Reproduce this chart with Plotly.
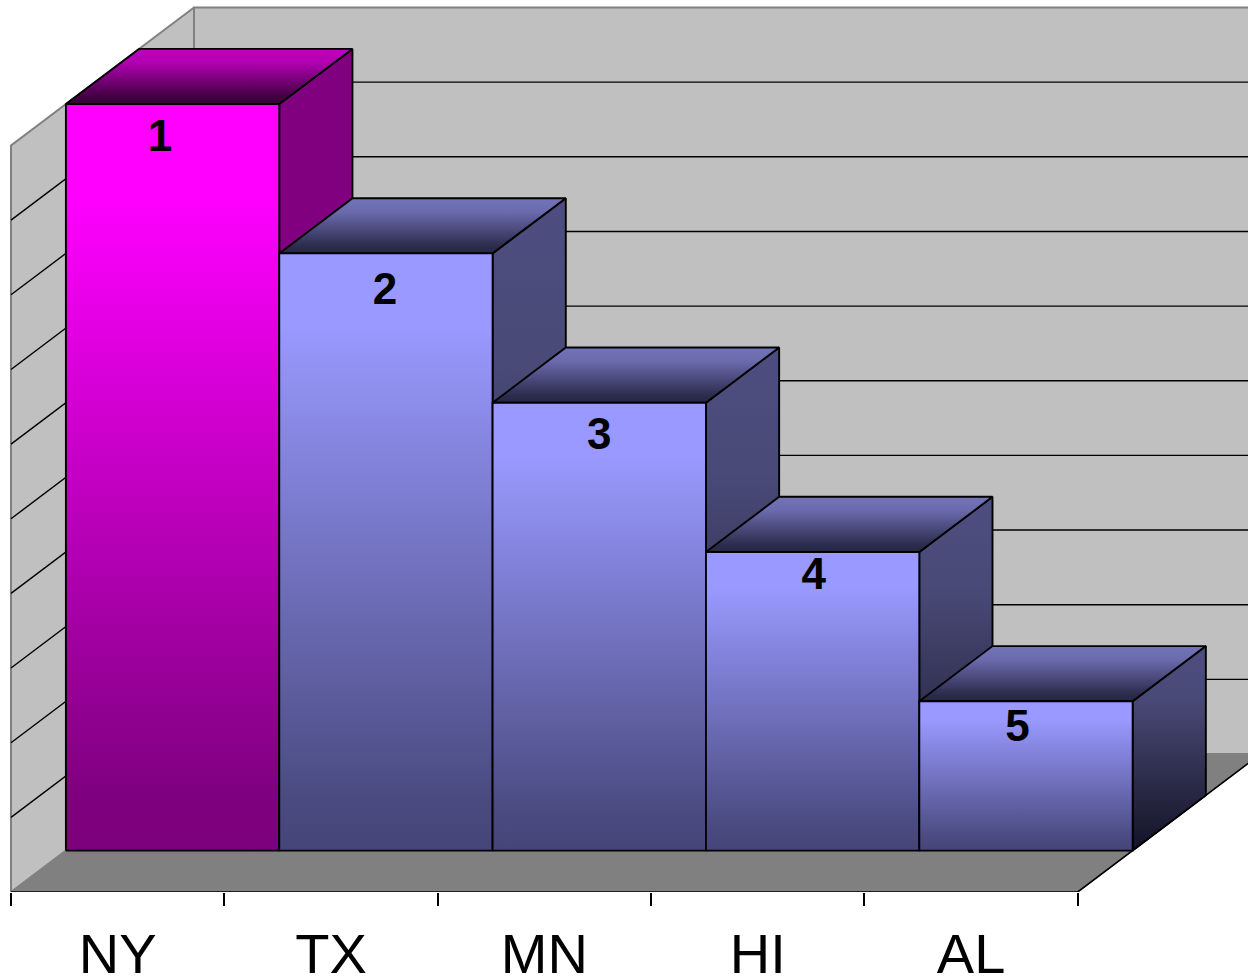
import plotly.graph_objects as go

# Chart data
states = ["NY", "TX", "MN", "HI", "AL"]
heights = [10, 8, 6, 4, 2]
ranks = [1, 2, 3, 4, 5]
grid_values = [1, 2, 3, 4, 5, 6, 7, 8, 9]

# Scale of the plot: pixels per category, pixels per value unit
PX_X = 213.35
PX_Y = 74.65
# Oblique depth vector of the whole floor, in pixels
DEPTH_DX = 183
DEPTH_DY = 138
BAR_NEAR = 0.3
BAR_FAR = 0.7
WALL_TOP = 10
PLOT_LEFT = 11
PLOT_BOTTOM = 892


def project(cat, val, depth):
    return cat + depth * DEPTH_DX / PX_X, val + depth * DEPTH_DY / PX_Y


def face(corners):
    xs, ys = zip(*[project(*c) for c in corners])
    return list(xs) + [xs[0]], list(ys) + [ys[0]]


def grad(stops):
    return dict(type="vertical", colorscale=stops)


fig = go.Figure()


def add_face(corners, line_color="#000000", line_width=1.9, fillcolor=None, gradient=None):
    x, y = face(corners)
    tr = dict(x=x, y=y, mode="lines", fill="toself", hoverinfo="skip",
              showlegend=False, line=dict(color=line_color, width=line_width))
    if gradient:
        tr["fillgradient"] = grad(gradient)
    else:
        tr["fillcolor"] = fillcolor
    fig.add_trace(go.Scatter(**tr))


# Walls and floor
n = len(states)
add_face([(0, 0, 1), (n + 1, 0, 1), (n + 1, WALL_TOP, 1), (0, WALL_TOP, 1)],
         line_color="#808080", line_width=2, fillcolor="#c0c0c0")
add_face([(0, 0, 0), (0, 0, 1), (0, WALL_TOP, 1), (0, WALL_TOP, 0)],
         line_color="#808080", line_width=2, fillcolor="#c0c0c0")
add_face([(0, 0, 0), (n, 0, 0), (n, 0, 1), (0, 0, 1)],
         line_color="#808080", line_width=1, fillcolor="#808080")

# Floor edges along the front and the right-hand side
ex, ey = zip(*[project(*c) for c in [(0, 0, 0), (n, 0, 0), (n, 0, 1)]])
fig.add_trace(go.Scatter(x=ex, y=ey, mode="lines", hoverinfo="skip", showlegend=False,
                         cliponaxis=False, line=dict(color="#000000", width=1.6)))

# Gridlines across the left wall and the back wall
gx, gy = [], []
for v in grid_values:
    for c in [(0, v, 0), (0, v, 1), (n + 1, v, 1)]:
        px, py = project(*c)
        gx.append(px)
        gy.append(py)
    gx.append(None)
    gy.append(None)
fig.add_trace(go.Scatter(x=gx, y=gy, mode="lines", hoverinfo="skip", showlegend=False,
                         line=dict(color="#000000", width=1.4)))

# Colour ramps per face; position 0 is the bottom of the face
front_pink = [[0, "#7c007c"], [0.08, "#800080"], [0.88, "#ff00ff"], [1, "#ff00ff"]]
side_pink = [[0, "#400040"], [0.6, "#800080"], [1, "#800080"]]
top_pink = [[0, "#380038"], [0.12, "#400040"], [0.75, "#b000b0"], [1, "#c000c0"]]
front_blue = [[0, "#45457a"], [0.08, "#4a4a80"], [0.88, "#9999ff"], [1, "#9999ff"]]
side_blue = [[0, "#12122a"], [0.1, "#1a1a30"], [0.75, "#4a4a78"], [1, "#4d4d80"]]
top_blue = [[0, "#262645"], [0.12, "#2b2b4c"], [0.75, "#6a6aad"], [1, "#7373b8"]]

# Bars, left to right so each one overlaps its neighbour's side
for i, h in enumerate(heights):
    pink = i == 0
    l, r = i, i + 1
    add_face([(r, 0, BAR_NEAR), (r, 0, BAR_FAR), (r, h, BAR_FAR), (r, h, BAR_NEAR)],
             gradient=side_pink if pink else side_blue)
    add_face([(l, h, BAR_NEAR), (r, h, BAR_NEAR), (r, h, BAR_FAR), (l, h, BAR_FAR)],
             gradient=top_pink if pink else top_blue)
    add_face([(l, 0, BAR_NEAR), (r, 0, BAR_NEAR), (r, h, BAR_NEAR), (l, h, BAR_NEAR)],
             gradient=front_pink if pink else front_blue)

# Rank labels just under each bar's top edge, nudged in pixels
label_nudge_x = [-12.5, -1, 0, 1, -8.5]
label_drop = [36, 40, 35, 26, 29]
lx, ly = [], []
for i, h in enumerate(heights):
    px, py = project(i + 0.5, h, BAR_NEAR)
    lx.append(px + label_nudge_x[i] / PX_X)
    ly.append(py - label_drop[i] / PX_Y)
fig.add_trace(go.Scatter(x=lx, y=ly, mode="text", text=[str(r) for r in ranks],
                         textposition="middle center", hoverinfo="skip", showlegend=False,
                         textfont=dict(family="Liberation Sans", size=44, color="#000000",
                                       weight="bold")))

fig.update_xaxes(
    range=[-PLOT_LEFT / PX_X, (1248 - PLOT_LEFT) / PX_X],
    showgrid=False, zeroline=False, showline=False,
    automargin=False,
    tickmode="array",
    tickvals=[i + 0.5 for i in range(n)],
    ticktext=states,
    ticks="",
    ticklabelstandoff=24,
    tickfont=dict(family="Liberation Sans", size=56, color="#000000"),
    minor=dict(tickmode="array", tickvals=list(range(n + 1)), ticks="outside",
               ticklen=13, tickwidth=1.5, tickcolor="#000000", showgrid=False),
)
fig.update_yaxes(range=[0, PLOT_BOTTOM / PX_Y], visible=False, automargin=False)
fig.update_layout(
    width=1248, height=977,
    margin=dict(l=0, r=0, t=0, b=977 - PLOT_BOTTOM, pad=0, autoexpand=False),
    paper_bgcolor="#ffffff", plot_bgcolor="#ffffff",
    showlegend=False,
)

fig.write_html("out.html")
